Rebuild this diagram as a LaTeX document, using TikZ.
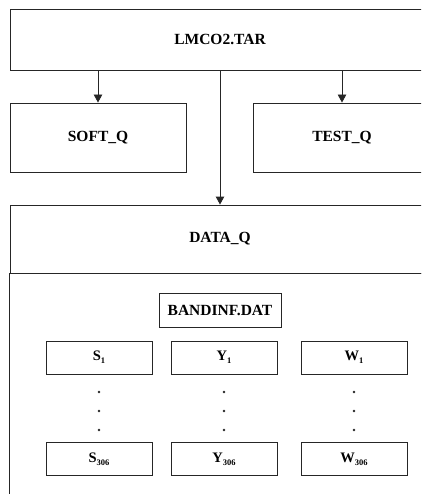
\documentclass[tikz,border=0pt]{standalone}
\usepackage{fontspec}
\setmainfont{Liberation Serif}
\usetikzlibrary{arrows.meta}
\newcommand{\filesub}[1]{\raisebox{-0.45ex}{\fontsize{8.5}{9}\selectfont #1}}
\tikzset{
  box/.style={draw=black!85, line width=0.9pt, inner sep=0pt,
    font=\fontsize{15.5}{18}\selectfont\bfseries},
  filebox/.style={box, minimum width=106, minimum height=33,
    font=\fontsize{14.5}{17}\selectfont\bfseries},
  arr/.style={draw=black!85, line width=0.9pt,
    -{Triangle[length=8pt,width=8.5pt]}}
}
\begin{document}
\begin{tikzpicture}[x=1pt,y=-1pt]
    \useasboundingbox (0,0) rectangle (421,494);
    \clip (0,0) rectangle (421,494);

    % archive and its three parts
    \node[box, minimum width=420, minimum height=60.5] (tar) at (220,39.75) {LMCO2.TAR};
    \node[box, minimum width=176, minimum height=69] (soft) at (98,137.5) {SOFT\_Q};
    \node[box, minimum width=178, minimum height=69] (test) at (342,137.5) {TEST\_Q};
    \node[box, minimum width=420, minimum height=68] (data) at (220,239) {DATA\_Q};
    \draw[black!85, line width=0.9pt] (data.south west) rectangle ++(420,260);

    \draw[arr] (tar.south -| soft.north) -- (soft.north);
    \draw[arr] (tar.south -| test.north) -- (test.north);
    \draw[arr] (tar.south) -- (data.north);

    % contents of DATA_Q
    \node[box, minimum width=122, minimum height=34] (band) at (220,310) {BANDINF.DAT};
    \foreach \name/\x in {S/99, Y/224, W/354} {
        \node[filebox] (\name1) at (\x,357.5) {\name\filesub{1}};
        \node[filebox] (\name306) at (\x,459) {\name\filesub{306}};
        \foreach \y in {392,411,430}
            \fill[black!85] (\x,\y) circle (1.3);
    }
\end{tikzpicture}
\end{document}
